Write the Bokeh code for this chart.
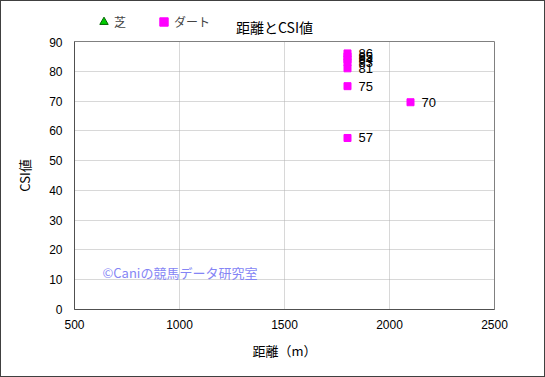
from bokeh.plotting import figure
from bokeh.models import ColumnDataSource, Legend, LegendItem, Label, FixedTicker, Range1d
from bokeh.layouts import column
from bokeh.core.properties import value
from bokeh.embed import file_html
from bokeh.resources import INLINE

# data
distance = [1800, 1800, 1800, 1800, 1800, 1800, 2100, 1800]
csi = [86, 85, 84, 83, 81, 75, 69.6, 57.6]
labels = ["86", "85", "84", "83", "81", "75", "70", "57"]
turf_distance = []
turf_csi = []
series_names = ["芝", "ダート"]
x_ticks = [500, 1000, 1500, 2000, 2500]
y_ticks = [0, 10, 20, 30, 40, 50, 60, 70, 80, 90]

JP = "Noto Sans CJK JP"
NUM = "Liberation Sans"

W = 543
HH = 36

# header holding legend and title (frame is aligned with the main plot)
header = figure(width=W, height=HH, output_backend="svg", toolbar_location=None,
                x_range=Range1d(0, 1), y_range=Range1d(0, 1), min_border=0)
header.axis.visible = False
header.grid.visible = False
header.outline_line_color = None
header.border_fill_color = "white"
# off-range swatch points so that the legend can draw its glyphs
h_turf = header.scatter(x=[-5], y=[-5], marker="triangle", size=9,
                        fill_color="#00cc00", line_color="#006600")
h_dirt = header.scatter(x=[-5], y=[-5], marker="square", size=8,
                        fill_color="#ff00ff", line_color="#ff00ff")
legend = Legend(items=[LegendItem(label=series_names[0], renderers=[h_turf]),
                       LegendItem(label=series_names[1], renderers=[h_dirt])],
                orientation="horizontal", location=(19, 5),
                border_line_color=None, background_fill_alpha=0,
                label_text_font=JP, label_text_font_size="12px",
                label_standoff=-3, glyph_width=21, glyph_height=21, label_width=0,
                spacing=27, padding=0, margin=0, label_height=14)
header.add_layout(legend, "center")
title = Label(x=200, y=11, x_units="screen", y_units="screen", text="距離とCSI値",
              text_font=JP, text_font_size="14px", text_align="center",
              text_baseline="middle", text_color="black")
header.add_layout(title)

p = figure(width=W, height=375 - HH, output_backend="svg", toolbar_location=None,
           x_range=Range1d(500, 2500), y_range=Range1d(0, 90),
           min_border_left=73, min_border_right=50, min_border_top=4, min_border_bottom=67)

p.background_fill_color = "white"
p.border_fill_color = "white"
p.outline_line_color = "#808080"
p.outline_line_width = 1

for ax in (p.xaxis[0], p.yaxis[0]):
    ax.major_tick_in = 0
    ax.major_tick_out = 0
    ax.minor_tick_in = 0
    ax.minor_tick_out = 0
    ax.axis_line_color = "#505050"
    ax.major_label_text_font = NUM
    ax.major_label_text_font_size = "12px"
    ax.major_label_text_color = "black"
    ax.axis_label_text_font = JP
    ax.axis_label_text_font_size = "13px"
    ax.axis_label_text_font_style = "normal"
    ax.axis_label_text_color = "black"

p.xaxis.ticker = FixedTicker(ticks=x_ticks)
p.yaxis.ticker = FixedTicker(ticks=y_ticks)
p.xaxis.axis_label = "距離（m）"
p.yaxis.axis_label = "CSI値"
p.xaxis.major_label_standoff = 10
p.yaxis.major_label_standoff = 12
p.xaxis.axis_label_standoff = 9
p.yaxis.axis_label_standoff = 12

p.grid.grid_line_color = "#b0b0b0"
p.grid.grid_line_dash = "1 1"
p.grid.grid_line_width = 1

src = ColumnDataSource(dict(x=distance, y=csi, lab=labels))
turf = ColumnDataSource(dict(x=turf_distance, y=turf_csi))

p.scatter("x", "y", source=turf, marker="triangle", size=9,
          fill_color="#00cc00", line_color="#006600")
p.scatter("x", "y", source=src, marker="square", size=7,
          fill_color="#ff00ff", line_color="#ff00ff")
p.text("x", "y", text="lab", source=src, x_offset=11, text_baseline="middle",
       text_font_size="13px", text_color="black", text_font=value(NUM))

wm = Label(x=28, y=37, x_units="screen", y_units="screen",
           text="©Caniの競馬データ研究室", text_font=JP, text_font_size="13px",
           text_color="#8585f5", text_baseline="middle")
p.add_layout(wm)

layout = column(header, p, spacing=0)
layout.styles = {"border": "1px solid #404040"}

open("out.html", "w").write(file_html(layout, INLINE))
